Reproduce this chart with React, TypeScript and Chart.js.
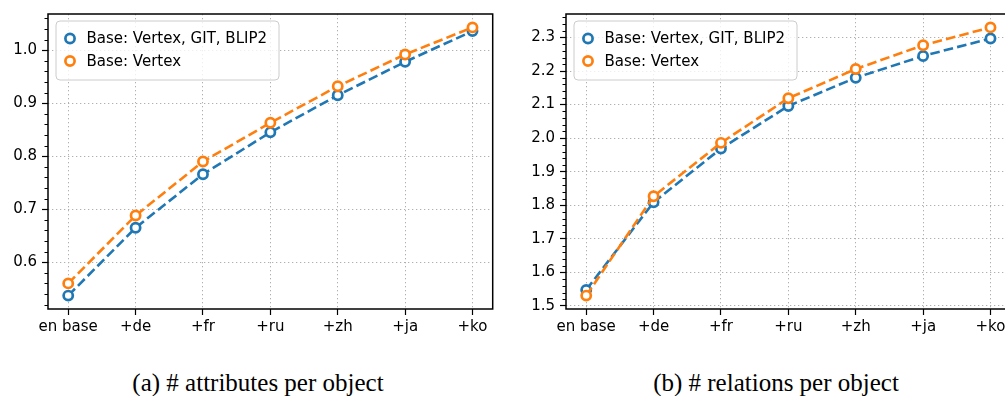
import React, { useEffect, useRef } from "react";
import { Chart, registerables } from "chart.js";

Chart.register(...registerables);

const categories = ["en base", "+de", "+fr", "+ru", "+zh", "+ja", "+ko"];
const seriesNames = ["Base: Vertex, GIT, BLIP2", "Base: Vertex"];
const seriesColors = ["#1f77b4", "#ff7f0e"];

const attrAll = [0.537, 0.665, 0.766, 0.845, 0.915, 0.978, 1.036];
const attrVertex = [0.56, 0.688, 0.79, 0.863, 0.932, 0.992, 1.043];
const relAll = [1.548, 1.809, 1.969, 2.096, 2.18, 2.245, 2.297];
const relVertex = [1.531, 1.827, 1.986, 2.119, 2.206, 2.277, 2.33];

const attrTicks = [0.6, 0.7, 0.8, 0.9, 1.0];
const relTicks = [1.5, 1.6, 1.7, 1.8, 1.9, 2.0, 2.1, 2.2, 2.3];
const minorStep = 0.02;

const captions = ["(a) # attributes per object", "(b) # relations per object"];

const FONT = "'DejaVu Sans', sans-serif";
const CANVAS_W = 500;
const CANVAS_H = 345;

const decorPlugin = {
  id: "decor",
  afterDatasetsDraw(chart: any) {
    const ctx = chart.ctx;
    const a = chart.chartArea;
    const bx = a.left + 8;
    const by = a.top + 7;
    const bw = 223;
    const bh = 59;
    ctx.save();
    ctx.beginPath();
    const r = 4;
    ctx.moveTo(bx + r, by);
    ctx.lineTo(bx + bw - r, by);
    ctx.arcTo(bx + bw, by, bx + bw, by + r, r);
    ctx.lineTo(bx + bw, by + bh - r);
    ctx.arcTo(bx + bw, by + bh, bx + bw - r, by + bh, r);
    ctx.lineTo(bx + r, by + bh);
    ctx.arcTo(bx, by + bh, bx, by + bh - r, r);
    ctx.lineTo(bx, by + r);
    ctx.arcTo(bx, by, bx + r, by, r);
    ctx.closePath();
    ctx.fillStyle = "rgba(255,255,255,0.8)";
    ctx.fill();
    ctx.strokeStyle = "#cccccc";
    ctx.lineWidth = 1;
    ctx.stroke();
    chart.data.datasets.forEach((ds: any, i: number) => {
      const cy = by + 17.5 + i * 22.5;
      ctx.beginPath();
      ctx.arc(bx + 14, cy, 4.6, 0, Math.PI * 2);
      ctx.fillStyle = "#ffffff";
      ctx.fill();
      ctx.lineWidth = 2.7;
      ctx.strokeStyle = ds.borderColor;
      ctx.stroke();
      ctx.fillStyle = "#000";
      ctx.font = `15px ${FONT}`;
      ctx.textBaseline = "middle";
      ctx.textAlign = "left";
      ctx.fillText(ds.label, bx + 30.5, cy + 1);
    });
    ctx.restore();
  },
  afterDraw(chart: any) {
    const ctx = chart.ctx;
    const a = chart.chartArea;
    const ys = chart.scales.y;
    ctx.save();
    ctx.strokeStyle = "#000";
    ctx.lineWidth = 1;
    const start = Math.ceil(ys.min / minorStep);
    const end = Math.floor(ys.max / minorStep);
    for (let k = start; k <= end; k++) {
      if (k % 5 === 0) continue;
      const y = Math.round(ys.getPixelForValue(k * minorStep)) + 0.5;
      ctx.beginPath();
      ctx.moveTo(a.left - 3.5, y);
      ctx.lineTo(a.left, y);
      ctx.stroke();
    }
    ctx.strokeStyle = "#000";
    ctx.lineWidth = 1.5;
    ctx.strokeRect(a.left, a.top, a.right - a.left, a.bottom - a.top);
    ctx.restore();
  },
};

function PlotPanel({ seriesA, seriesB, yTicks, padRight }: any) {
  const ref = useRef<HTMLCanvasElement>(null);
  useEffect(() => {
    const all = [...seriesA, ...seriesB];
    const lo = Math.min(...all);
    const hi = Math.max(...all);
    const m = (hi - lo) * 0.05;
    const xm = (categories.length - 1) * 0.05;
    const mk = (vals: number[], i: number) => ({
      label: seriesNames[i],
      data: vals.map((v, j) => ({ x: j, y: v })),
      borderColor: seriesColors[i],
      backgroundColor: "#ffffff",
      borderWidth: 2.6,
      borderDash: [9.6, 4.2],
      pointRadius: 4.6,
      pointBorderWidth: 2.7,
      pointBackgroundColor: "#ffffff",
      pointBorderColor: seriesColors[i],
      tension: 0,
      clip: false,
      order: 1 - i,
    });
    const gridOpts = {
      color: "#b0b0b0",
      lineWidth: 1,
      tickColor: "#000",
      tickWidth: 1.2,
      tickLength: 6,
      tickBorderDash: [],
    };
    const chart = new Chart(ref.current!, {
      type: "line",
      data: { datasets: [mk(seriesA, 0), mk(seriesB, 1)] },
      options: {
        animation: false,
        responsive: false,
        layout: { padding: { left: 0, right: padRight, top: 10, bottom: 0 } },
        plugins: { legend: { display: false }, tooltip: { enabled: false } },
        scales: {
          x: {
            type: "linear",
            min: -xm,
            max: categories.length - 1 + xm,
            afterBuildTicks: (s: any) => {
              s.ticks = categories.map((_, j) => ({ value: j }));
            },
            afterFit: (s: any) => {
              s.height = CANVAS_H - 309;
            },
            ticks: {
              callback: (v: any) => categories[Math.round(Number(v))] ?? "",
              font: { family: FONT, size: 15 },
              color: "#000",
              padding: 3,
              maxRotation: 0,
              autoSkip: false,
            },
            grid: gridOpts,
            border: { display: false, dash: [1.3, 2.7] },
          },
          y: {
            type: "linear",
            min: lo - m,
            max: hi + m,
            afterBuildTicks: (s: any) => {
              s.ticks = yTicks.map((v: number) => ({ value: v }));
            },
            afterFit: (s: any) => {
              s.width = 48;
            },
            ticks: {
              callback: (v: any) => Number(v).toFixed(1),
              font: { family: FONT, size: 15 },
              color: "#000",
              padding: 5,
            },
            grid: gridOpts,
            border: { display: false, dash: [1.3, 2.7] },
          },
        },
      },
      plugins: [decorPlugin],
    } as any);
    return () => chart.destroy();
  }, []);
  return (
    <canvas
      ref={ref}
      width={CANVAS_W}
      height={CANVAS_H}
      style={{ width: CANVAS_W, height: CANVAS_H, display: "block" }}
    />
  );
}

export default function App() {
  const panels = [
    { left: 0, a: attrAll, b: attrVertex, ticks: attrTicks, pad: 7 },
    { left: 518, a: relAll, b: relVertex, ticks: relTicks, pad: 6 },
  ];
  return (
    <div
      style={{
        position: "fixed",
        left: 0,
        top: 0,
        width: 1005,
        height: 396,
        overflow: "hidden",
        background: "#fff",
      }}
    >
      {panels.map((p, i) => (
        <div key={i} style={{ position: "absolute", left: p.left, top: 0 }}>
          <PlotPanel seriesA={p.a} seriesB={p.b} yTicks={p.ticks} padRight={p.pad} />
        </div>
      ))}
      {panels.map((p, i) => (
        <div
          key={"c" + i}
          style={{
            position: "absolute",
            left: p.left + 258 - 200,
            width: 400,
            top: 370,
            textAlign: "center",
            fontFamily: "'Liberation Serif', 'Times New Roman', serif",
            fontSize: 25,
            lineHeight: "25px",
            color: "#000",
            whiteSpace: "nowrap",
          }}
        >
          {captions[i]}
        </div>
      ))}
    </div>
  );
}
